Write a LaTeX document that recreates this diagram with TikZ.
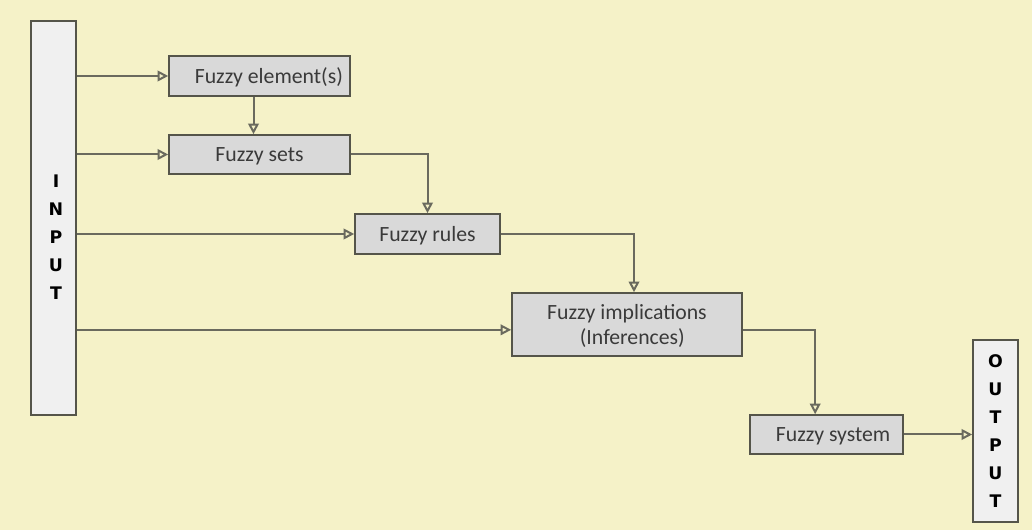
\documentclass[tikz,border=0pt]{standalone}
\usepackage{fontspec}
\setmainfont{Carlito}
\newfontfamily\lettfont{DejaVu Sans}
\usetikzlibrary{arrows.meta}
\definecolor{bgcol}{HTML}{F5F2C8}
\definecolor{boxfill}{HTML}{D9D9D9}
\definecolor{barfill}{HTML}{F0F0F0}
\definecolor{edgecol}{HTML}{55554A}
\definecolor{linecol}{HTML}{6A6A5E}
\definecolor{txtcol}{HTML}{3A3A3A}
\begin{document}
\begin{tikzpicture}[x=0.75pt, y=-0.75pt,
  fbox/.style={draw=edgecol, fill=boxfill, line width=1.2pt, inner sep=0pt, text=txtcol,
    font=\fontsize{16.3}{19}\selectfont, align=center, text depth=0pt},
  bar/.style={draw=edgecol, fill=barfill, line width=1.2pt, inner sep=0pt, minimum width=33.75pt},
  lett/.style={font=\lettfont\bfseries\fontsize{13}{21}\selectfont, align=center, inner sep=0pt},
  conn/.style={draw=linecol, line width=1.5pt, -{Triangle[open, length=8pt, width=8pt]}}]
\fill[bgcol] (0,0) rectangle (1032,530);
% input / output bars
\node[bar, minimum height=295.5pt] (inp) at (53.5,218){};
\node[lett] (inptxt) at (56,237.5){I\\N\\P\\U\\T};
\node[bar, minimum height=136.5pt, lett, draw=edgecol, fill=barfill, line width=1.2pt] (outp) at (995.5,431){O\\U\\T\\P\\U\\T};
% fuzzy boxes
\node[fbox, minimum width=135.75pt, minimum height=30pt] (felem) at (259.5,76){\hspace*{14pt}Fuzzy element(s)};
\node[fbox, minimum width=135.75pt, minimum height=29.25pt] (fsets) at (259.5,154.5){Fuzzy sets};
\node[fbox, minimum width=108.75pt, minimum height=30pt] (frules) at (427.5,234){Fuzzy rules};
\node[fbox, minimum width=172.5pt, minimum height=47.25pt] (fimpl) at (627,324.5){Fuzzy implications\\\hspace*{8pt}(Inferences)};
\node[fbox, minimum width=114.75pt, minimum height=29.25pt] (fsys) at (826.5,434.5){\hspace*{10pt}Fuzzy system};
% connectors
\draw[conn] (inp.east |- felem.west) -- (felem.west);
\draw[conn] ([xshift=-4.5pt]felem.south) -- ([xshift=-4.5pt]fsets.north);
\draw[conn] (inp.east |- fsets.west) -- (fsets.west);
\draw[conn] (fsets.east) -| (frules.north);
\draw[conn] (inp.east |- frules.west) -- (frules.west);
\draw[conn] (frules.east) -| ([xshift=5.25pt]fimpl.north);
\draw[conn] ([yshift=-4pt]fimpl.west -| inp.east) -- ([yshift=-4pt]fimpl.west);
\draw[conn] ([yshift=-4pt]fimpl.east) -| ([xshift=-8.5pt]fsys.north);
\draw[conn] (fsys.east) -- (outp.west |- fsys.east);
\end{tikzpicture}
\end{document}
